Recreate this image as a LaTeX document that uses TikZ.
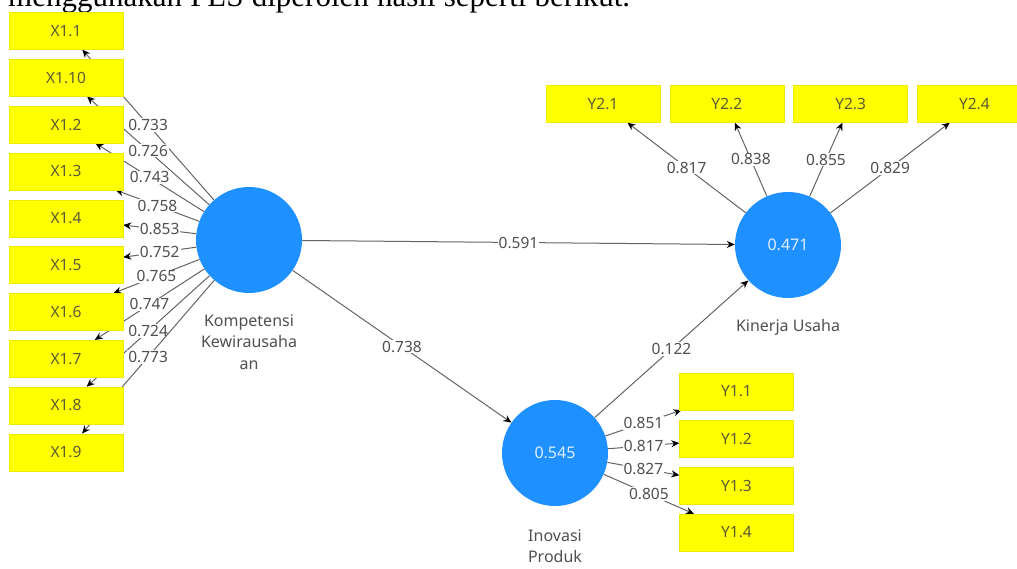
\documentclass[tikz,border=0pt]{standalone}
\usepackage{fontspec}
\setmainfont{Liberation Serif}
\newfontfamily\plsfont{Noto Sans}
\usepackage{tikz}
\usetikzlibrary{positioning,arrows.meta,backgrounds}

\definecolor{lvblue}{RGB}{30,144,255}
\definecolor{lvtext}{RGB}{222,238,255}
\definecolor{indyellow}{RGB}{255,255,0}
\definecolor{indtext}{RGB}{92,92,55}
\definecolor{lbltext}{RGB}{80,80,80}
\definecolor{linegrey}{RGB}{100,100,100}

\tikzset{
  indicator/.style={draw=indyellow!92!black, line width=0.3pt, fill=indyellow,
    minimum width=114pt, minimum height=37pt, inner sep=0pt,
    font=\plsfont\fontsize{15.5}{18}\selectfont, text=indtext},
  latent/.style={circle, fill=lvblue, minimum size=106pt, inner sep=0pt,
    font=\plsfont\fontsize{16}{19}\selectfont, text=lvtext},
  lvname/.style={align=center, inner sep=0pt,
    font=\plsfont\fontsize{16}{21.5}\selectfont, text=lbltext},
  loading/.style={draw=linegrey, line width=1pt,
    -{Stealth[length=8pt,width=7pt,black]}},
  coef/.style={fill=white, inner sep=1pt,
    font=\plsfont\fontsize{15.5}{18}\selectfont, text=lbltext},
}

\begin{document}
\begin{tikzpicture}[x=1pt, y=-1pt]
      \useasboundingbox (0,0) rectangle (1017,569);
      \clip (0,0) rectangle (1017,569);

      % text line above the figure
      \node[anchor=base west, inner sep=0pt, font=\fontsize{31}{35}\selectfont] (intro) at (8,7)
      {\makebox[622pt][s]{menggunakan PLS diperoleh hasil seperti berikut.}};

      % latent variables
      \node[latent] (kk) at (249,240) {};
      \node[latent] (ku) at (788,245) {0.471};
      \node[latent] (ip) at (555,453) {0.545};
      \node[lvname, below=21pt of kk] (kklabel) {Kompetensi\\Kewirausaha\\an};
      \node[lvname, below=21pt of ku] (kulabel) {Kinerja Usaha};
      \node[lvname, below=23pt of ip] (iplabel) {Inovasi\\Produk};

      % indicators of Kompetensi Kewirausahaan
      \node[indicator] (x11) at (66,31) {X1.1};
      \node[indicator, below=9.5pt of x11] (x110) {X1.10};
      \node[indicator, below=9.5pt of x110] (x12) {X1.2};
      \node[indicator, below=9.5pt of x12] (x13) {X1.3};
      \node[indicator, below=9.5pt of x13] (x14) {X1.4};
      \node[indicator, below=9.5pt of x14] (x15) {X1.5};
      \node[indicator, below=9.5pt of x15] (x16) {X1.6};
      \node[indicator, below=9.5pt of x16] (x17) {X1.7};
      \node[indicator, below=9.5pt of x17] (x18) {X1.8};
      \node[indicator, below=9.5pt of x18] (x19) {X1.9};

      % indicators of Kinerja Usaha
      \node[indicator] (y21) at (603,104) {Y2.1};
      \node[indicator, right=9.5pt of y21] (y22) {Y2.2};
      \node[indicator, right=9.5pt of y22] (y23) {Y2.3};
      \node[indicator, right=9.5pt of y23] (y24) {Y2.4};

      % indicators of Inovasi Produk
      \node[indicator] (y11) at (736.5,391.5) {Y1.1};
      \node[indicator, below=9.7pt of y11] (y12) {Y1.2};
      \node[indicator, below=9.7pt of y12] (y13) {Y1.3};
      \node[indicator, below=9.7pt of y13] (y14) {Y1.4};

      \begin{pgfonlayer}{background}
      \fill[white] (0,0) rectangle (1017,569);
      \draw[loading] (kk) -- node[coef]{0.733} (x11);
      \draw[loading] (kk) -- node[coef]{0.726} (x110);
      \draw[loading] (kk) -- node[coef]{0.743} (x12);
      \draw[loading] (kk) -- node[coef]{0.758} (x13);
      \draw[loading] (kk) -- node[coef]{0.853} (x14);
      \draw[loading] (kk) -- node[coef]{0.752} (x15);
      \draw[loading] (kk) -- node[coef]{0.765} (x16);
      \draw[loading] (kk) -- node[coef]{0.747} (x17);
      \draw[loading] (kk) -- node[coef]{0.724} (x18);
      \draw[loading] (kk) -- node[coef]{0.773} (x19);

      \draw[loading] (ku) -- node[coef]{0.817} (y21);
      \draw[loading] (ku) -- node[coef]{0.838} (y22);
      \draw[loading] (ku) -- node[coef]{0.855} (y23);
      \draw[loading] (ku) -- node[coef]{0.829} (y24);

      \draw[loading] (ip) -- node[coef]{0.851} (y11);
      \draw[loading] (ip) -- node[coef]{0.817} (y12);
      \draw[loading] (ip) -- node[coef]{0.827} (y13);
      \draw[loading] (ip) -- node[coef]{0.805} (y14);

      \draw[loading] (kk) -- node[coef]{0.591} (ku);
      \draw[loading] (kk) -- node[coef]{0.738} (ip);
      \draw[loading] (ip) -- node[coef]{0.122} (ku);
      \end{pgfonlayer}
    \end{tikzpicture}
\end{document}
